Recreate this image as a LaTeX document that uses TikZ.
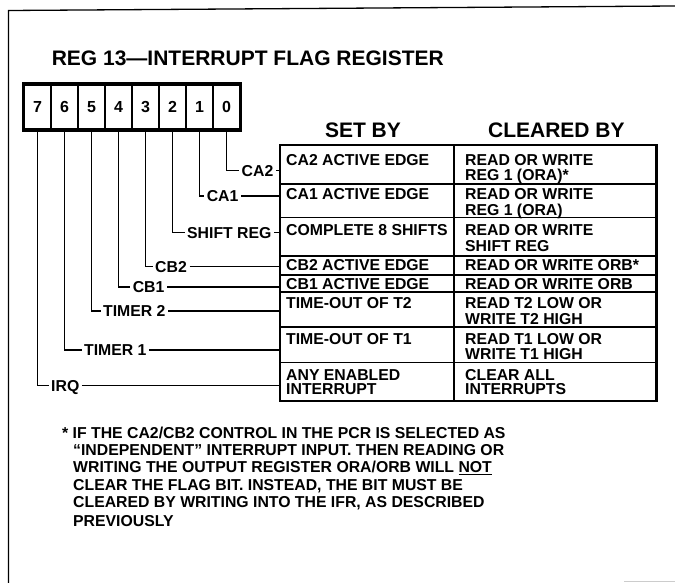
\documentclass[tikz,border=0pt]{standalone}
\usepackage{fontspec}
\setmainfont{Liberation Sans}
\newcommand\lblfont{\fontsize{15.8}{15.5}\selectfont\bfseries}
\newcommand\bigfont{\fontsize{21}{21}\selectfont\bfseries}
\begin{document}
\begin{tikzpicture}[x=1pt,y=-1pt,
  bitbox/.style={draw, line width=1.6pt, minimum width=27pt, minimum height=44.5pt, inner sep=0pt, font=\fontsize{16}{16}\selectfont\bfseries},
  lab/.style={anchor=west, inner xsep=2.5pt, inner ysep=0pt, text height=11.3pt, text depth=0pt, font=\lblfont},
  cell/.style={anchor=base west, inner sep=0pt, font=\lblfont},
  hdr/.style={anchor=base, inner sep=0pt, font=\bigfont},
  conn/.style={line width=1.5pt},
  tbl/.style={line width=1.8pt},
  tblout/.style={line width=2.6pt},
  frame/.style={line width=1.3pt}]
\useasboundingbox (0,0) rectangle (675,583);
% frame
\draw[frame] (8.5,583) -- (8.5,10.5) -- (675,6);
\draw[gray!40, line width=1pt] (624,581) -- (675,581);
% title
\node[anchor=base west, inner sep=0pt, font=\bigfont] (title) at (51.6,66) {REG 13---INTERRUPT FLAG REGISTER};
% bit boxes
\foreach \b [evaluate=\b as \xx using {37.5+27*(7-\b)}] in {7,6,5,4,3,2,1,0}
  \node[bitbox] (b\b) at (\xx,107) {\b};
\draw[line width=3pt] (b7.north west) rectangle (b0.south east);
% headers
\node[hdr] (hset) at (363,137.5) {SET BY};
\node[hdr] (hclr) at (556.4,137.5) {CLEARED BY};
% table
\coordinate (tl) at (280,145);
\coordinate (tm) at (454,145);
\coordinate (tr) at (656.5,145);
\coordinate (bl) at (280,401);
\draw[tbl] (tm) -- (454,401);
\foreach \yy in {184,217.5,255.8,275,291.8,327,362.5}
  \draw[tbl] (280,\yy) -- (656.5,\yy);
\draw[tblout] (tl) rectangle (656.5,401);
% cells
\node[cell] (c1a) at (286,165.7) {CA2 ACTIVE EDGE};
\node[cell] (c1b) at (465,165.7) {READ OR WRITE};
\node[cell] (c1c) at (465,180.4) {REG 1 (ORA)*};
\node[cell] (c2a) at (286,199.7) {CA1 ACTIVE EDGE};
\node[cell] (c2b) at (465,199.7) {READ OR WRITE};
\node[cell] (c2c) at (465,215.7) {REG 1 (ORA)};
\node[cell] (c3a) at (286,235.5) {COMPLETE 8 SHIFTS};
\node[cell] (c3b) at (465,235.5) {READ OR WRITE};
\node[cell] (c3c) at (465,251) {SHIFT REG};
\node[cell] (c4a) at (286,270.7) {CB2 ACTIVE EDGE};
\node[cell] (c4b) at (465,270.7) {READ OR WRITE ORB*};
\node[cell] (c5a) at (286,289.3) {CB1 ACTIVE EDGE};
\node[cell] (c5b) at (465,289.3) {READ OR WRITE ORB};
\node[cell] (c6a) at (286,308.7) {TIME-OUT OF T2};
\node[cell] (c6b) at (465,308.7) {READ T2 LOW OR};
\node[cell] (c6c) at (465,324.3) {WRITE T2 HIGH};
\node[cell] (c7a) at (286,344.7) {TIME-OUT OF T1};
\node[cell] (c7b) at (465,344.7) {READ T1 LOW OR};
\node[cell] (c7c) at (465,359.7) {WRITE T1 HIGH};
\node[cell] (c8a) at (286,380) {ANY ENABLED};
\node[cell] (c8b) at (286,394.7) {INTERRUPT};
\node[cell] (c8c) at (465,380) {CLEAR ALL};
\node[cell] (c8d) at (465,394.7) {INTERRUPTS};
% labels
\node[lab] (l0) at (239,170.5) {CA2};
\node[lab] (l1) at (204.1,196) {CA1};
\node[lab] (l2) at (184.5,232.4) {SHIFT REG};
\node[lab] (l3) at (152.5,266.6) {CB2};
\node[lab] (l4) at (130.1,287) {CB1};
\node[lab] (l5) at (100.5,311) {TIMER 2};
\node[lab] (l6) at (81.5,350) {TIMER 1};
\node[lab] (l7) at (48.5,385.6) {IRQ};
\foreach \b in {0,...,7}{
  \draw[conn] (b\b.south) |- (l\b.west);
  \draw[conn] (l\b.east) -- (l\b.east -| tl);
}
% footnote
\node[cell] (f1) at (62,438.7) {* IF THE CA2/CB2 CONTROL IN THE PCR IS SELECTED AS};
\node[cell] (f2) at (73,455.7) {``INDEPENDENT'' INTERRUPT INPUT. THEN READING OR};
\node[cell] (f3) at (73,472.3) {WRITING THE OUTPUT REGISTER ORA/ORB WILL \underline{NOT}};
\node[cell] (f4) at (73,490.7) {CLEAR THE FLAG BIT. INSTEAD, THE BIT MUST BE};
\node[cell] (f5) at (73,507.7) {CLEARED BY WRITING INTO THE IFR, AS DESCRIBED};
\node[cell] (f6) at (73,526.2) {PREVIOUSLY};
\end{tikzpicture}
\end{document}
